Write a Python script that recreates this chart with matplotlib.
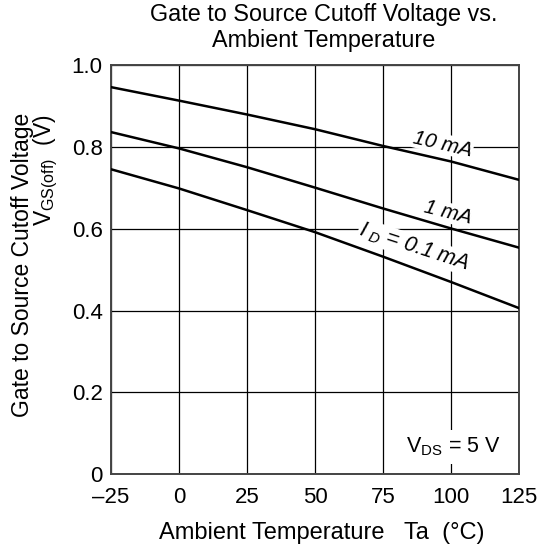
import matplotlib
matplotlib.use("Agg")
import matplotlib.pyplot as plt

plt.rcParams['font.family'] = ['Liberation Sans', 'DejaVu Sans']
plt.rcParams['mathtext.fontset'] = 'custom'
plt.rcParams['mathtext.rm'] = 'Liberation Sans'
plt.rcParams['mathtext.it'] = 'Liberation Sans:italic'
plt.rcParams['mathtext.bf'] = 'Liberation Sans:bold'

temps = [-25, 0, 25, 50, 75, 100, 125]
v_10mA = [0.947, 0.914, 0.880, 0.844, 0.803, 0.765, 0.720]
v_1mA = [0.837, 0.797, 0.751, 0.701, 0.650, 0.601, 0.554]
v_01mA = [0.746, 0.699, 0.646, 0.592, 0.532, 0.470, 0.406]

xticks = [-25, 0, 25, 50, 75, 100, 125]
xticklabels = ['\u201325', '0', '25', '50', '75', '100', '125']
yticks = [0, 0.2, 0.4, 0.6, 0.8, 1.0]
yticklabels = ['0', '0.2', '0.4', '0.6', '0.8', '1.0']

fig = plt.figure(figsize=(5.56, 5.54), dpi=100)
ax = fig.add_axes([0.1996, 0.1444, 0.734, 0.7374])

ax.set_xlim(-25, 125)
ax.set_ylim(0, 1.0)
ax.set_xticks(xticks)
ax.set_xticklabels(xticklabels, fontsize=16)
ax.set_yticks(yticks)
ax.set_yticklabels(yticklabels, fontsize=16)
ax.tick_params(axis='x', length=0, pad=9)
ax.tick_params(axis='y', length=0, pad=6)
ax.grid(True, color='black', linewidth=0.9)
ax.set_axisbelow(True)
for s in ax.spines.values():
    s.set_color('#444444')
    s.set_linewidth(1.4)

for v in (v_10mA, v_1mA, v_01mA):
    ax.plot(temps, v, color='black', linewidth=1.8, zorder=3)

bb = dict(facecolor='white', edgecolor='none', pad=0.5)
ax.text(97, 0.808, '10 mA', fontsize=15, style='italic', rotation=-13,
        ha='center', va='center', bbox=bb, zorder=4)
ax.text(99, 0.639, '1 mA', fontsize=15, style='italic', rotation=-14,
        ha='center', va='center', bbox=bb, zorder=4)
ax.text(86.4, 0.556, r'$I_{\ D}$ = 0.1 mA', fontsize=15.5, style='italic', rotation=-18,
        ha='center', va='center', bbox=bb, zorder=4)
ax.text(100.7, 0.066, r'$\mathregular{V_{DS}}$ = 5 V', fontsize=15.5,
        ha='center', va='center', bbox=dict(facecolor='white', edgecolor='none', pad=4), zorder=4)

fig.text(0.582, 0.973, 'Gate to Source Cutoff Voltage vs.', fontsize=16.8, ha='center', va='center')
fig.text(0.582, 0.926, 'Ambient Temperature', fontsize=16.8, ha='center', va='center')
fig.text(0.579, 0.038, 'Ambient Temperature   Ta  (\u00b0C)', fontsize=17, ha='center', va='center')
fig.text(0.040, 0.522, 'Gate to Source Cutoff Voltage', fontsize=16.5, rotation=90, ha='center', va='center')
fig.text(0.083, 0.693, r'$\mathregular{V_{GS(off)}}$  (V)', fontsize=16.5, rotation=90, ha='center', va='center')

fig.savefig('out.png', dpi=100)
